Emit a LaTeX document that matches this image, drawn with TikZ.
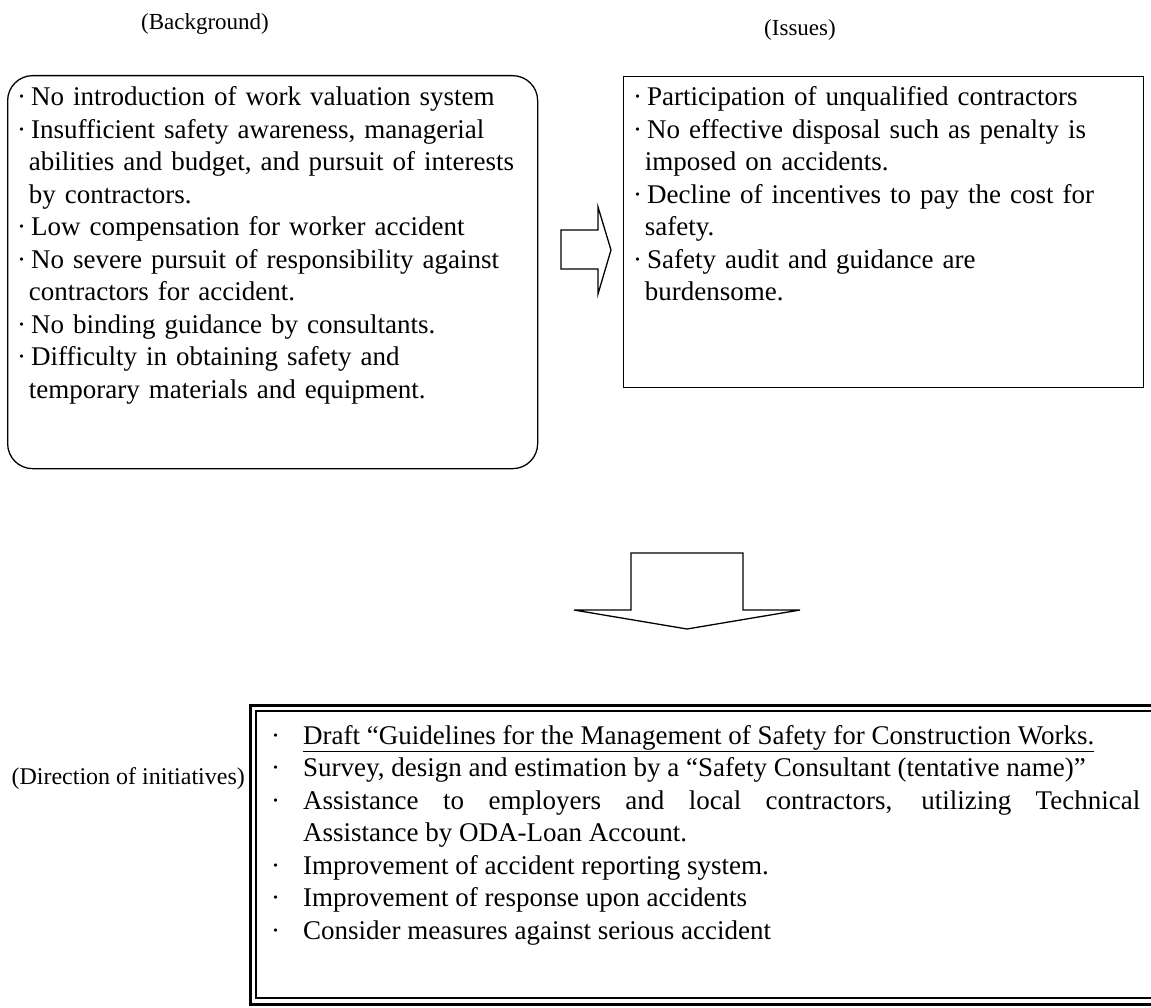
\documentclass[tikz,border=0pt]{standalone}
\usepackage{fontspec}
\setmainfont{Liberation Serif}
\newcommand{\pdot}{\textperiodcentered\hspace{5pt}}
\newcommand{\hang}{\hspace*{11.75pt}}
\newcommand{\tdot}{\makebox[32pt][l]{\textperiodcentered}}
\tikzset{
  boxline/.style={draw, line width=1.3pt},
  arrowline/.style={draw, line width=1.3pt, line join=miter},
  bodytext/.style={anchor=base west, inner sep=0pt, align=left, font=\fontsize{27}{32.5}\selectfont},
  headtext/.style={anchor=base, inner sep=0pt, font=\fontsize{23}{28}\selectfont},
}
\begin{document}
\begin{tikzpicture}[x=1pt,y=-1pt]
\path[use as bounding box, fill=white] (0,0) rectangle (1151,1008);

\node[headtext] (bglabel) at (205,30) {(Background)};
\node[headtext] (issuelabel) at (800,36) {(Issues)};

\node[boxline, rounded corners=25pt, minimum width=530pt, minimum height=393pt, anchor=north west] (bgbox) at (7,75) {};
\node[boxline, minimum width=520pt, minimum height=311pt, anchor=north west] (issuebox) at (623,76) {};

\node[bodytext, text width=515pt] (bgtext) at (17,106) {\pdot No introduction of work valuation system\\
\pdot Insufficient safety awareness, managerial\\
\hang abilities and budget, and pursuit of interests\\
\hang by contractors.\\
\pdot Low compensation for worker accident\\
\pdot No severe pursuit of responsibility against\\
\hang contractors for accident.\\
\pdot No binding guidance by consultants.\\
\pdot Difficulty in obtaining safety and\\
\hang temporary materials and equipment.};

\node[bodytext, text width=505pt] (issuetext) at (633,106) {\pdot Participation of unqualified contractors\\
\pdot No effective disposal such as penalty is\\
\hang imposed on accidents.\\
\pdot Decline of incentives to pay the cost for\\
\hang safety.\\
\pdot Safety audit and guidance are\\
\hang burdensome.};

\draw[arrowline] (561,230) -- (598,230) -- (598,207) -- (611,250) -- (598,294) -- (598,269) -- (561,269) -- cycle;
\draw[arrowline] (631,553) -- (743,553) -- (743,610) -- (800,610) -- (687,629) -- (574,610) -- (631,610) -- cycle;

\draw[line width=3pt] (1151,705) -| (250,1004) -- (1151,1004);
\draw[line width=1.2pt] (1151,711) -| (256,998) -- (1151,998);

\node[headtext, font=\fontsize{24}{28}\selectfont, anchor=base east] (dirlabel) at (245,784) {(Direction of initiatives)};

\node[bodytext, align=justify, text width=869pt] (initext) at (271,744) {\tdot\underline{Draft “Guidelines for the Management of Safety for Construction Works.}\\
\tdot Survey, design and estimation by a “Safety Consultant (tentative name)”\\
\tdot Assistance to employers and local contractors, utilizing Technical\linebreak
\hspace*{32pt}Assistance by ODA-Loan Account.\\
\tdot Improvement of accident reporting system.\\
\tdot Improvement of response upon accidents\\
\tdot Consider measures against serious accident};
\end{tikzpicture}
\end{document}
